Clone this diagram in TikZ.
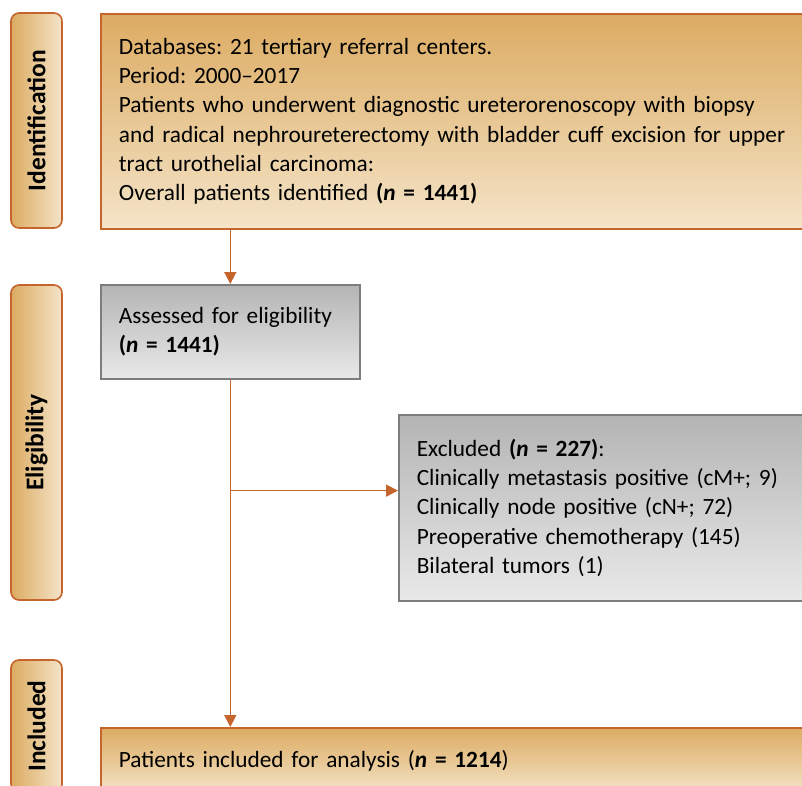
\documentclass[tikz,border=0pt]{standalone}
\usepackage{fontspec}
\setmainfont{Carlito}
\frenchspacing
\usetikzlibrary{shapes,arrows.meta,positioning}
\definecolor{rust}{RGB}{197,100,45}
\definecolor{goldtop}{RGB}{220,171,98}
\definecolor{goldbot}{RGB}{244,228,200}
\definecolor{greytop}{RGB}{180,180,180}
\definecolor{greybot}{RGB}{233,233,233}
\definecolor{greyline}{RGB}{125,125,125}

\begin{document}
\begin{tikzpicture}[x=1pt, y=-1pt, font=\fontsize{23.3}{29.3}\selectfont]
        \tikzstyle{phase} = [rectangle, draw=rust, line width=1.6pt, rounded corners=8pt, left color=goldtop, right color=goldbot, minimum width=51pt, inner sep=0pt, font=\fontsize{25.5}{29}\selectfont\bfseries]
        \tikzstyle{gold box} = [rectangle, draw=rust, line width=1.8pt, top color=goldtop, bottom color=goldbot, text width=690pt, align=left, inner xsep=18pt, anchor=north west]
        \tikzstyle{grey box} = [rectangle, draw=greyline, line width=1.6pt, top color=greytop, bottom color=greybot, align=left, inner xsep=18pt, anchor=north west]
        \tikzstyle{line} = [draw=rust, line width=1.5pt, -{Triangle[length=12pt, width=12pt]}]

    \useasboundingbox (0,0) rectangle (802,785);
    \clip (0,0) rectangle (802,785);

    \node [phase, minimum height=215pt] (phase 1) at (36.5,120.5) {\rotatebox{90}{Identification}};
    \node [phase, minimum height=315pt] (phase 2) at (36.5,442.5) {\rotatebox{90}{Eligibility}};
    \node [phase, minimum height=132pt] (phase 3) at (36.5,726) {\rotatebox{90}{Included}};

    \node [gold box, minimum height=215pt] (identification) at (100,13) {Databases: 21 tertiary referral centers. \\ Period: 2000--2017 \\ Patients who underwent diagnostic ureterorenoscopy with biopsy \\ and radical nephroureterectomy with bladder cuff excision for upper \\ tract urothelial carcinoma: \\ Overall patients identified \textbf{(\textit{n} = 1441)}};
    \node [grey box, text width=223pt, minimum height=94pt] (assessed) at (100,284) {Assessed for eligibility \\ \textbf{(\textit{n} = 1441)}};
    \node [grey box, text width=450pt, minimum height=186pt] (excluded) at (398,414) {Excluded \textbf{(\textit{n} = 227)}: \\ Clinically metastasis positive (cM+; 9) \\ Clinically node positive (cN+; 72) \\ Preoperative chemotherapy (145) \\ Bilateral tumors (1)};
    \node [gold box, minimum height=66pt] (included) at (100,727) {Patients included for analysis (\textbf{\textit{n} = 1214})};
    \coordinate [below=111pt of assessed.south] (split);

    \path [line] (identification.south -| assessed.north) -- (assessed.north);
    \path [line] (assessed.south) -- (assessed.south |- included.north);
    \path [line] (split) -- (split -| excluded.west);
\end{tikzpicture}
\end{document}
